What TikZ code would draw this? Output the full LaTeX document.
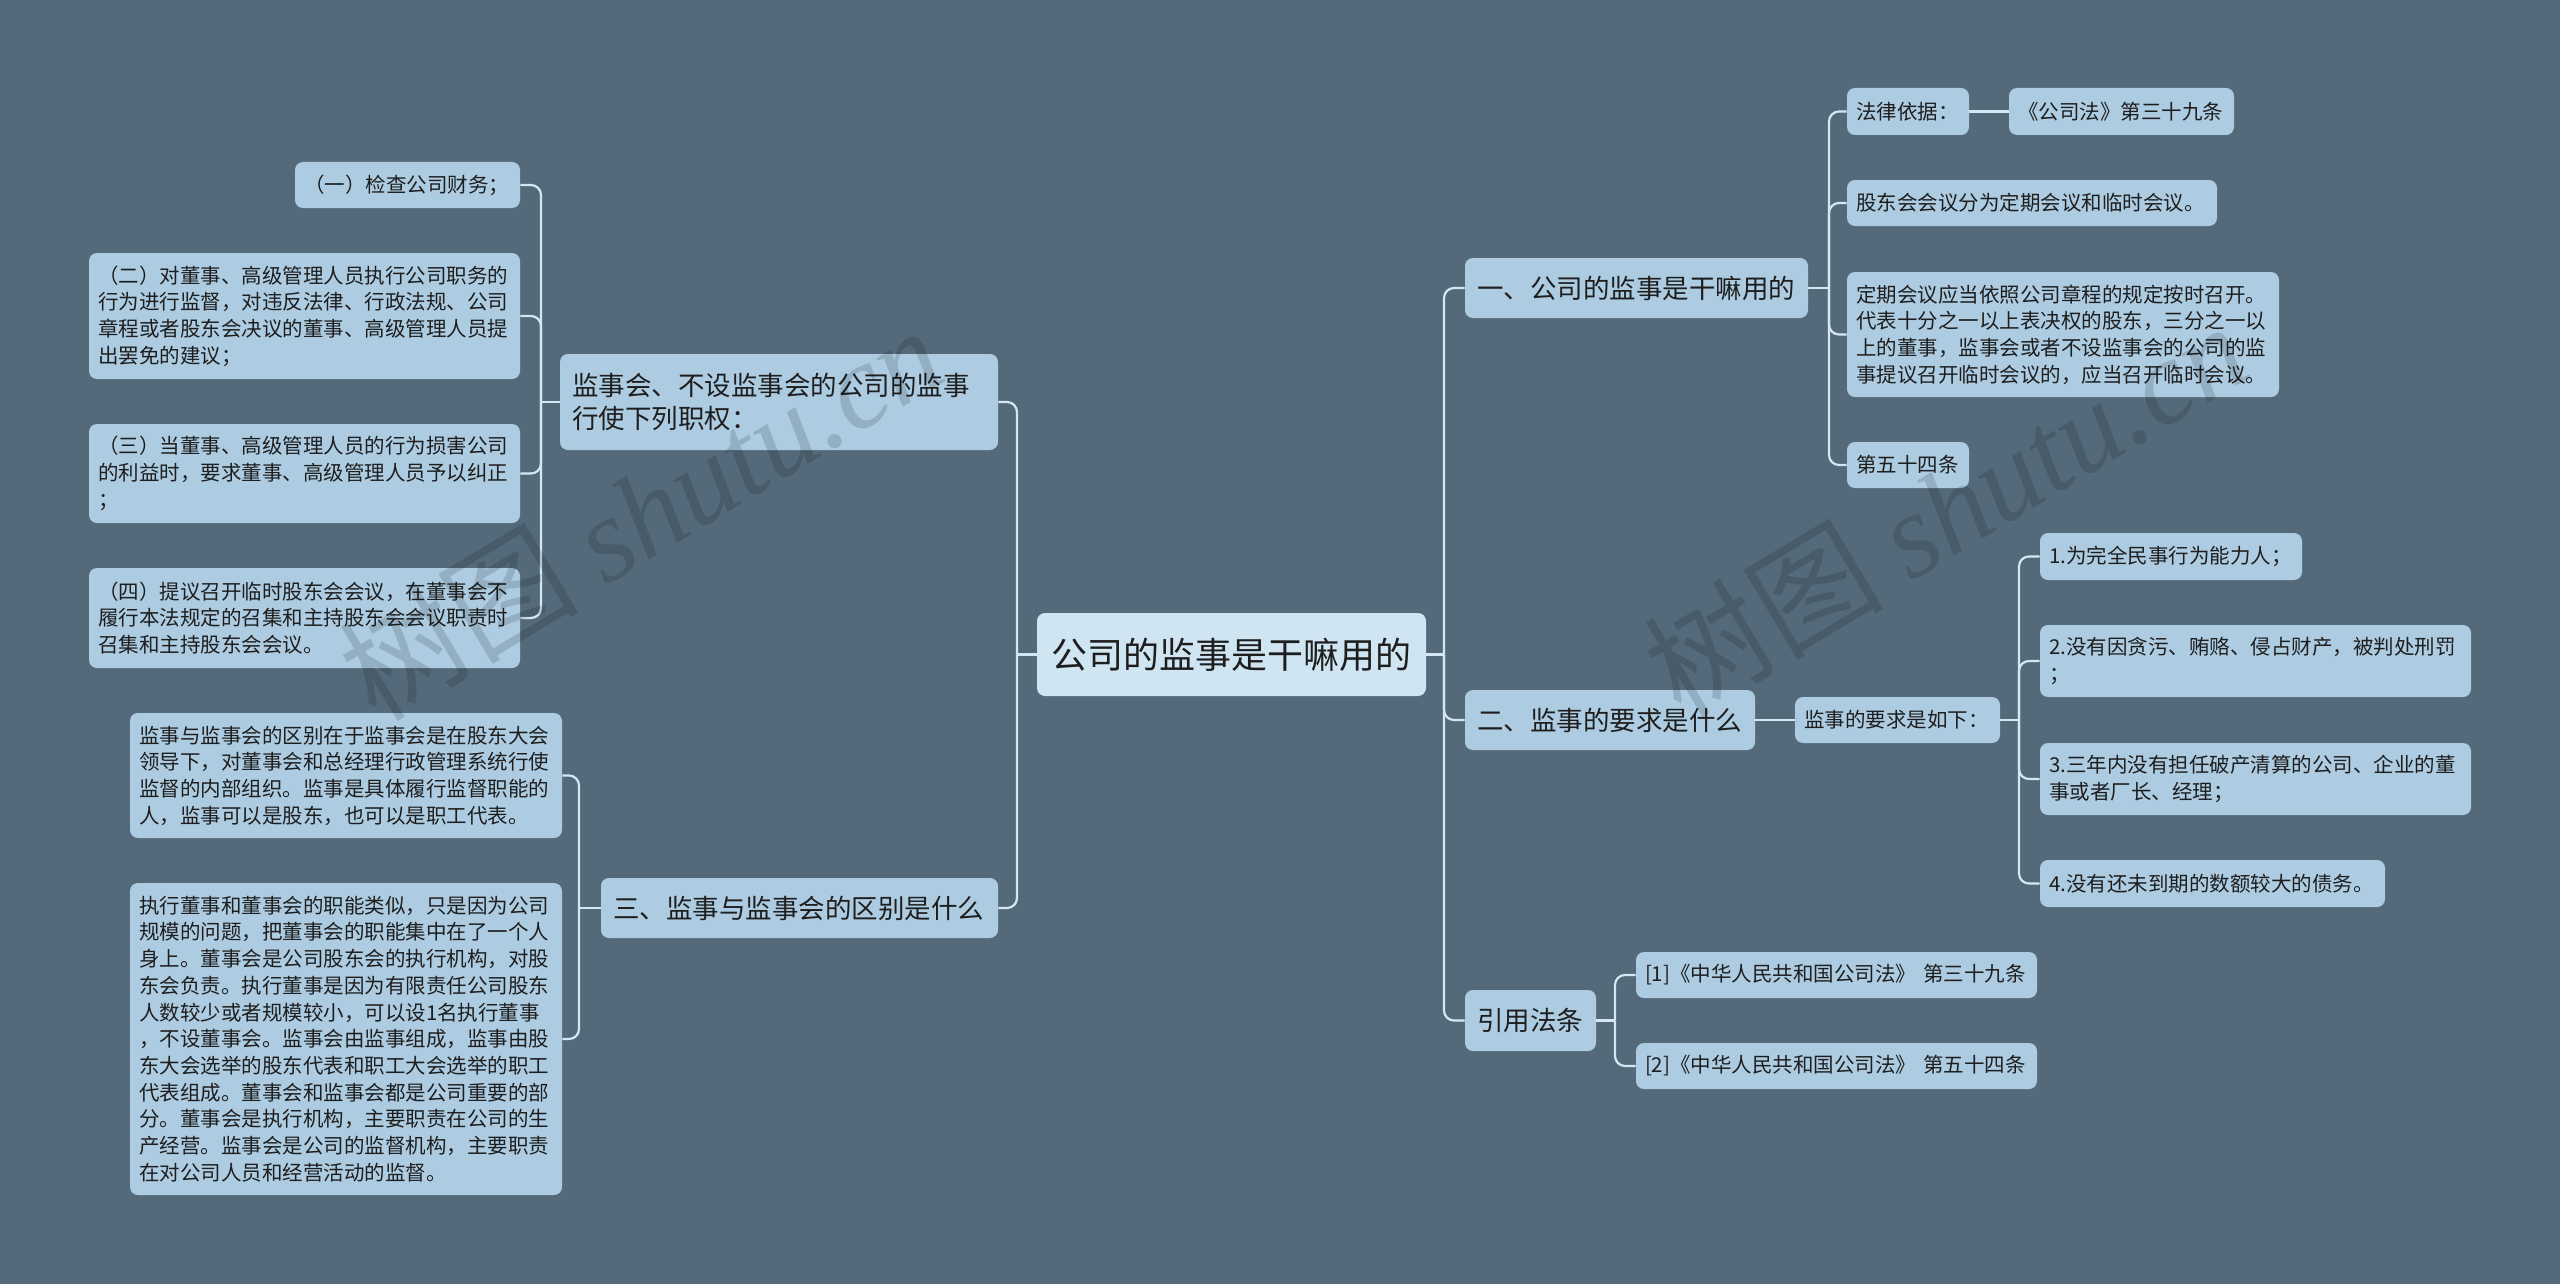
\documentclass[tikz,border=0pt]{standalone}
\usepackage{fontspec}
\setmainfont{Noto Sans CJK SC}
\newfontfamily\wmlatin{Liberation Serif}
\definecolor{bgc}{HTML}{546A7B}
\definecolor{nodefill}{HTML}{ADCCE2}
\definecolor{rootfill}{HTML}{CFE5F2}
\definecolor{linec}{HTML}{D3E8F3}
\definecolor{txt}{HTML}{1E1E1E}
\tikzset{
  basebox/.style={rounded corners=4pt, fill=nodefill, text=txt, inner ysep=0pt, align=left, anchor=center},
  rootbox/.style={basebox, fill=rootfill, align=center, inner xsep=0pt, font=\fontsize{18pt}{22pt}\selectfont},
  lone/.style={basebox, inner xsep=6pt, font=\fontsize{13.25pt}{16.5pt}\selectfont},
  ltwo/.style={basebox, inner xsep=4.5pt, font=\fontsize{10.25pt}{13.35pt}\selectfont},
  conn/.style={draw=linec, line width=1.1pt, rounded corners=5pt},
  wmark/.style={text=black, text opacity=0.14, rotate=31, inner sep=0pt, font=\fontsize{60pt}{64pt}\selectfont}
}
\begin{document}
\begin{tikzpicture}[x=0.5pt,y=-0.5pt]
\fill[bgc] (0,0) rectangle (2560,1284);
\useasboundingbox (0,0) rectangle (2560,1284);

% root
\node[rootbox, minimum width=194.5pt, minimum height=41.5pt] (R) at (1231.5,654.5) {公司的监事是干嘛用的};

% level 1
\node[lone, minimum width=219pt, minimum height=48pt, text width=207pt] (b1) at (779,402) {监事会、不设监事会的公司的监事\\行使下列职权：};
\node[lone, minimum width=198.5pt, minimum height=30pt, text width=186.5pt] (b2) at (799.5,908) {三、监事与监事会的区别是什么};
\node[lone, minimum width=171.5pt, minimum height=30pt, text width=159.5pt] (a1) at (1636.5,288) {一、公司的监事是干嘛用的};
\node[lone, minimum width=145pt, minimum height=30pt, text width=133pt] (a2) at (1610,720) {二、监事的要求是什么};
\node[lone, minimum width=65.5pt, minimum height=30.5pt, text width=53.5pt] (a3) at (1530.5,1020.5) {引用法条};

% B1 children
\node[ltwo, minimum width=112.5pt, minimum height=23pt, text width=103.5pt] (c1) at (407.5,185) {（一）检查公司财务；};
\node[ltwo, minimum width=215.5pt, minimum height=63pt, text width=206.5pt] (c2) at (304.5,316) {（二）对董事、高级管理人员执行公司职务的\\行为进行监督，对违反法律、行政法规、公司\\章程或者股东会决议的董事、高级管理人员提\\出罢免的建议；};
\node[ltwo, minimum width=215.5pt, minimum height=49.5pt, text width=206.5pt] (c3) at (304.5,473.5) {（三）当董事、高级管理人员的行为损害公司\\的利益时，要求董事、高级管理人员予以纠正\\；};
\node[ltwo, minimum width=215.5pt, minimum height=50pt, text width=206.5pt] (c4) at (304.5,618) {（四）提议召开临时股东会会议，在董事会不\\履行本法规定的召集和主持股东会会议职责时\\召集和主持股东会会议。};

% B2 children
\node[ltwo, minimum width=216pt, minimum height=62.5pt, text width=207pt] (d1) at (346,775.5) {监事与监事会的区别在于监事会是在股东大会\\领导下，对董事会和总经理行政管理系统行使\\监督的内部组织。监事是具体履行监督职能的\\人，监事可以是股东，也可以是职工代表。};
\node[ltwo, minimum width=216pt, minimum height=156pt, text width=207pt] (d2) at (346,1039) {执行董事和董事会的职能类似，只是因为公司\\规模的问题，把董事会的职能集中在了一个人\\身上。董事会是公司股东会的执行机构，对股\\东会负责。执行董事是因为有限责任公司股东\\人数较少或者规模较小，可以设1名执行董事\\，不设董事会。监事会由监事组成，监事由股\\东大会选举的股东代表和职工大会选举的职工\\代表组成。董事会和监事会都是公司重要的部\\分。董事会是执行机构，主要职责在公司的生\\产经营。监事会是公司的监督机构，主要职责\\在对公司人员和经营活动的监督。};

% A1 children
\node[ltwo, minimum width=61pt, minimum height=23.5pt, text width=52pt] (e1) at (1908,111.5) {法律依据：};
\node[ltwo, minimum width=112.5pt, minimum height=23.5pt, text width=103.5pt] (e1b) at (2121.5,111.5) {《公司法》第三十九条};
\node[ltwo, minimum width=185pt, minimum height=23pt, text width=176pt] (e2) at (2032,203) {股东会会议分为定期会议和临时会议。};
\node[ltwo, minimum width=216pt, minimum height=62.5pt, text width=207pt] (e3) at (2063,334.5) {定期会议应当依照公司章程的规定按时召开。\\代表十分之一以上表决权的股东，三分之一以\\上的董事，监事会或者不设监事会的公司的监\\事提议召开临时会议的，应当召开临时会议。};
\node[ltwo, minimum width=61pt, minimum height=23pt, text width=52pt] (e4) at (1908,465) {第五十四条};

% A2 children
\node[ltwo, minimum width=102.5pt, minimum height=23pt, text width=93.5pt] (f0) at (1897.5,720) {监事的要求是如下：};
\node[ltwo, minimum width=131pt, minimum height=23.5pt, text width=122pt] (f1) at (2171,556.5) {1.为完全民事行为能力人；};
\node[ltwo, minimum width=215.5pt, minimum height=36pt, text width=206.5pt] (f2) at (2255.5,661) {2.没有因贪污、贿赂、侵占财产，被判处刑罚\\；};
\node[ltwo, minimum width=215.5pt, minimum height=36pt, text width=206.5pt] (f3) at (2255.5,779) {3.三年内没有担任破产清算的公司、企业的董\\事或者厂长、经理；};
\node[ltwo, minimum width=172.5pt, minimum height=23.5pt, text width=163.5pt] (f4) at (2212.5,883.5) {4.没有还未到期的数额较大的债务。};

% A3 children
\node[ltwo, minimum width=200.5pt, minimum height=23pt, text width=191.5pt] (g1) at (1836.5,975) {[1]《中华人民共和国公司法》~第三十九条};
\node[ltwo, minimum width=200.5pt, minimum height=23pt, text width=191.5pt] (g2) at (1836.5,1066) {[2]《中华人民共和国公司法》~第五十四条};

% junctions
\coordinate (rj) at (1444,654.5);
\coordinate (lj) at (1017,654.5);
\coordinate (aj1) at (1829,288);
\coordinate (aj2) at (2019,720);
\coordinate (aj3) at (1615,1020.5);
\coordinate (bj1) at (541,402);
\coordinate (bj2) at (579,908);

% connectors
\draw[conn] (R.east) -- (rj);
\foreach \c in {a1,a2,a3} \draw[conn] (rj) |- (\c.west);
\draw[conn] (R.west) -- (lj);
\foreach \c in {b1,b2} \draw[conn] (lj) |- (\c.east);
\draw[conn] (a1.east) -- (aj1);
\foreach \c in {e1,e2,e3,e4} \draw[conn] (aj1) |- (\c.west);
\draw[conn] (e1.east) -- (e1b.west);
\draw[conn] (a2.east) -- (f0.west);
\draw[conn] (f0.east) -- (aj2);
\foreach \c in {f1,f2,f3,f4} \draw[conn] (aj2) |- (\c.west);
\draw[conn] (a3.east) -- (aj3);
\foreach \c in {g1,g2} \draw[conn] (aj3) |- (\c.west);
\draw[conn] (b1.west) -- (bj1);
\foreach \c in {c1,c2,c3,c4} \draw[conn] (bj1) |- (\c.east);
\draw[conn] (b2.west) -- (bj2);
\foreach \c in {d1,d2} \draw[conn] (bj2) |- (\c.east);

% watermarks
\node[wmark] (wm1) at (640,512) {树图 {\wmlatin\itshape shutu.cn}};
\node[wmark] (wm2) at (1945,508) {树图 {\wmlatin\itshape shutu.cn}};
\end{tikzpicture}
\end{document}
